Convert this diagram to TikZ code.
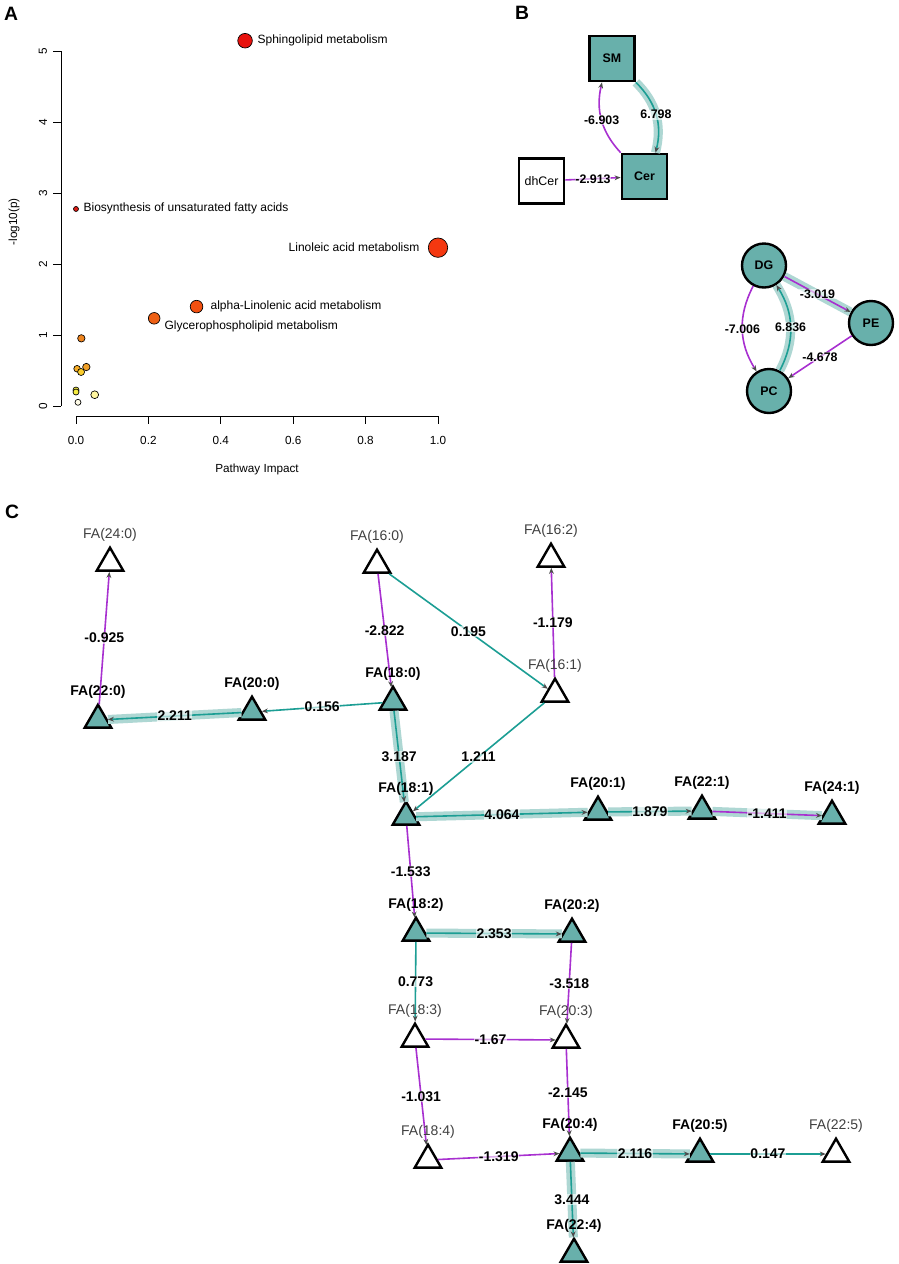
\documentclass[tikz,border=0pt]{standalone}
\usepackage{fontspec}
\setmainfont{Liberation Sans}
\usetikzlibrary{shapes.geometric,arrows.meta,positioning}
\pgfdeclarelayer{front}
\pgfsetlayers{main,front}

\definecolor{tealfill}{RGB}{104,176,171}
\definecolor{tealline}{RGB}{28,158,148}
\definecolor{purpline}{RGB}{168,48,208}
\definecolor{halocol}{RGB}{174,215,211}
\definecolor{labgray}{RGB}{64,64,64}
\definecolor{heat1}{RGB}{232,18,14}% sphingolipid
\definecolor{heat2}{RGB}{222,30,22}
\definecolor{heat3}{RGB}{244,56,16}
\definecolor{heat4}{RGB}{242,80,16}
\definecolor{heat5}{RGB}{238,96,20}
\definecolor{heat6}{RGB}{238,132,30}
\definecolor{heat7}{RGB}{246,172,36}
\definecolor{heat8}{RGB}{240,160,40}
\definecolor{heat9}{RGB}{250,204,44}
\definecolor{heat10}{RGB}{246,236,64}
\definecolor{heat11}{RGB}{255,246,160}
\definecolor{heat12}{RGB}{255,252,232}

\tikzset{
  panel/.style={font=\fontsize{14.5}{16}\selectfont\bfseries, inner sep=0pt},
  axisline/.style={line width=0.6pt},
  ticklab/.style={font=\fontsize{8.8}{10}\selectfont, inner sep=1pt},
  ptext/.style={font=\fontsize{9}{10}\selectfont, inner sep=1pt},
  heatdot/.style={draw=black, line width=0.5pt},
  fa/.style={regular polygon, regular polygon sides=3, minimum size=23pt, inner sep=0pt, draw=black, line width=1.8pt},
  fafill/.style={fa, fill=tealfill},
  faopen/.style={fa, fill=white},
  blab/.style={font=\fontsize{10.5}{12}\selectfont\bfseries, inner sep=1pt, anchor=south},
  rlab/.style={font=\fontsize{10.5}{12}\selectfont, text=labgray, inner sep=1pt, anchor=south},
  sq/.style={draw=black, line width=1.8pt, minimum width=34pt, minimum height=34pt, inner sep=0pt},
  circ/.style={circle, draw=black, line width=1.8pt, minimum size=33pt, inner sep=0pt, fill=tealfill},
  bnum/.style={font=\fontsize{9.3}{11}\selectfont\bfseries},
  posedge/.style={draw=tealline, line width=1.2pt, -{Stealth[length=4.5pt,width=3.6pt,color=black!70]}},
  negedge/.style={draw=purpline, line width=1.2pt, -{Stealth[length=4.5pt,width=3.6pt,color=black!70]}},
  glow/.style={preaction={draw=halocol, line width=6.8pt, -}},
  elab/.style={font=\fontsize{10.5}{12}\selectfont\bfseries, fill=white, fill opacity=0.6, text opacity=1, inner sep=0.5pt},
  belab/.style={elab, font=\fontsize{9.3}{11}\selectfont\bfseries},
}

\begin{document}
\begin{tikzpicture}[x=0.75pt, y=-0.75pt]
  \fill[white] (0,0) rectangle (899,1264);
  \useasboundingbox (0,0) rectangle (899,1264);

  % ---------- A: pathway impact
  \node[panel] (pA) at (11,14) {A};
  \draw[axisline] (61,51) -- (61,406);% y axis
  \foreach \v in {0,...,5}{
    \draw[axisline] (53,{406-71*\v}) -- (61,{406-71*\v});
    \node[ticklab, rotate=90] (yt\v) at (43,{406-71*\v}) {\v};
  }
  \draw[axisline] (76,416) -- (438,416);% x axis
  \foreach \i/\t in {0/0.0,1/0.2,2/0.4,3/0.6,4/0.8,5/1.0}{
    \draw[axisline] ({76+72.4*\i},416) -- ({76+72.4*\i},424);
    \node[ticklab] (xt\i) at ({76+72.4*\i},440) {\t};
  }
  \node[ticklab, rotate=90] (ylab) at (14,222) {-log10(p)};
  \node[ticklab] (xlab) at (257,469) {Pathway Impact};
  % impact / -log10(p) / radius / colour
  \foreach \i/\v/\r/\c in {0.467/5.145/7.3/heat1, 0.0/2.775/2.5/heat2, 1.0/2.23/9.7/heat3,
      0.333/1.40/6.3/heat4, 0.216/1.235/5.8/heat5, 0.0147/0.953/3.7/heat6,
      0.003/0.525/3.3/heat7, 0.0285/0.549/3.7/heat8, 0.014/0.479/3.5/heat9,
      0.0/0.225/3/heat10, 0.0/0.197/3/heat10, 0.0517/0.159/3.9/heat11, 0.0055/0.052/3/heat12}
    \filldraw[heatdot, fill=\c] ({76+362*\i},{406-71*\v}) circle (\r);
  \node[ptext, anchor=west] (tsph) at (256,40) {Sphingolipid metabolism};
  \node[ptext, anchor=west] (tbio) at (82,208) {Biosynthesis of unsaturated fatty acids};
  \node[ptext, anchor=east] (tlin) at (421,247) {Linoleic acid metabolism};
  \node[ptext, anchor=west] (talp) at (209,306) {alpha-Linolenic acid metabolism};
  \node[ptext, anchor=west] (tgly) at (163,326) {Glycerophospholipid metabolism};

  % ---------- B: lipid classes
  \node[panel] (pB) at (522,13) {B};
  \node[sq, fill=tealfill, bnum] (sm) at (612,58.5) {SM};
  \node[sq, fill=tealfill, bnum] (cer) at (644.5,176.5) {Cer};
  \node[sq, fill=white, font=\fontsize{9.3}{11}\selectfont] (dhcer) at (541.5,181) {dhCer};
  \node[circ, bnum] (dg) at (764,265.5) {DG};
  \node[circ, bnum] (pe) at (871,323) {PE};
  \node[circ, bnum] (pc) at (769,391) {PC};
  \draw[negedge] (dhcer) -- node[belab] (wdhcer) {-2.913} (cer);
  \draw[negedge] (cer.north west) to[bend left=28] node[belab] (wcersm) {-6.903} (sm);
  \draw[posedge, glow] (sm.south east) to[bend left=30] node[belab] (wsmcer) {6.798} (cer);
  \draw[negedge, glow] (dg) -- node[belab] (wdgpe) {-3.019} (pe);
  \draw[negedge] (dg) to[bend right=30] node[belab] (wdgpc) {-7.006} (pc);
  \draw[posedge, glow] (pc) to[bend right=30] node[belab] (wpcdg) {6.836} (dg);
  \draw[negedge] (pe) -- node[belab] (wpepc) {-4.678} (pc);

  % ---------- C: fatty acid network
  \node[panel] (pC) at (12,512) {C};
  \foreach \n/\x/\y/\t in {fa220/98/720/FA(22:0), fa200/252/712/FA(20:0), fa180/393/702/FA(18:0),
      fa181/406/817/FA(18:1), fa201/598/812/FA(20:1), fa221/702/811/FA(22:1), fa241/832/816/FA(24:1),
      fa182/416/933/FA(18:2), fa202/572/934/FA(20:2), fa204/570/1153/FA(20:4),
      fa205/700/1154/FA(20:5), fa224/574/1254/FA(22:4)}{
    \node[fafill] (\n) at (\x,\y) {};
    \begin{pgfonlayer}{front}
      \node[blab] (l\n) at ([yshift=2pt]\n.north) {\t};
    \end{pgfonlayer}
  }
  \foreach \n/\x/\y/\t in {fa240/110/563/FA(24:0), fa160/377/565/FA(16:0), fa162/551/559/FA(16:2),
      fa161/555/694/FA(16:1), fa183/415/1039/FA(18:3), fa203/566/1040/FA(20:3),
      fa184/428/1160/FA(18:4), fa225/836/1154/FA(22:5)}{
    \node[faopen] (\n) at (\x,\y) {};
    \begin{pgfonlayer}{front}
      \node[rlab] (l\n) at ([yshift=2pt]\n.north) {\t};
    \end{pgfonlayer}
  }
  % positive, with halo
  \foreach \a/\b/\w in {fa200/fa220/2.211, fa180/fa181/3.187, fa181/fa201/4.064, fa201/fa221/1.879,
      fa182/fa202/2.353, fa204/fa205/2.116, fa204/fa224/3.444}
    \draw[posedge, glow] (\a) -- node[elab] (w\a\b) {\w} (\b);
  % positive
  \foreach \a/\b/\w in {fa180/fa200/0.156, fa160/fa161/0.195, fa161/fa181/1.211,
      fa182/fa183/0.773, fa205/fa225/0.147}
    \draw[posedge] (\a) -- node[elab] (w\a\b) {\w} (\b);
  % negative
  \draw[negedge, glow] (fa221) -- node[elab] (wfa221fa241) {-1.411} (fa241);
  \foreach \a/\b/\w in {fa220/fa240/-0.925, fa160/fa180/-2.822, fa161/fa162/-1.179,
      fa181/fa182/-1.533, fa202/fa203/-3.518, fa183/fa203/-1.67, fa183/fa184/-1.031,
      fa203/fa204/-2.145, fa184/fa204/-1.319}
    \draw[negedge] (\a) -- node[elab] (w\a\b) {\w} (\b);
\end{tikzpicture}
\end{document}
